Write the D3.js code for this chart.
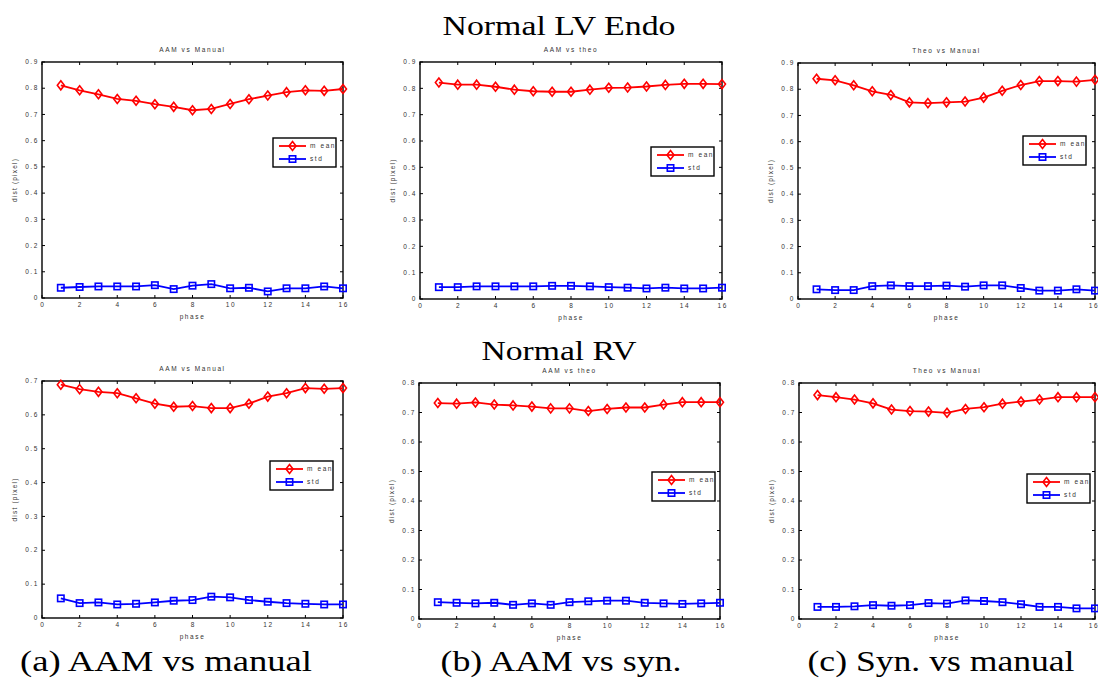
<!DOCTYPE html>
<html>
<head>
<meta charset="utf-8">
<script src="https://cdn.jsdelivr.net/npm/d3@7"></script>
<style>
  body { margin: 0; background: #fff; }
  svg { display: block; }
  .small { font-family: "Liberation Sans", Arial, sans-serif; font-size: 6.5px; letter-spacing: 1.6px; fill: #333; }
  .big { font-family: "Liberation Serif", "DejaVu Serif", serif; fill: #000; }
</style>
</head>
<body>
<div id="viz"></div>
<script>
const width = 1098;
const height = 680;

const phases = d3.range(1, 17);

// LV Endo row
const lvAamManualMean = [0.811, 0.792, 0.777, 0.759, 0.752, 0.739, 0.729, 0.716, 0.721, 0.740, 0.758, 0.772, 0.785, 0.792, 0.790, 0.797];
const lvAamManualStd  = [0.039, 0.042, 0.044, 0.044, 0.044, 0.049, 0.034, 0.047, 0.053, 0.037, 0.039, 0.025, 0.037, 0.037, 0.044, 0.037];
const lvAamTheoMean   = [0.822, 0.814, 0.814, 0.806, 0.795, 0.789, 0.787, 0.787, 0.795, 0.802, 0.803, 0.807, 0.813, 0.817, 0.817, 0.816];
const lvAamTheoStd    = [0.045, 0.045, 0.048, 0.048, 0.048, 0.048, 0.050, 0.050, 0.048, 0.045, 0.043, 0.040, 0.043, 0.040, 0.040, 0.043];
const lvTheoManualMean = [0.840, 0.834, 0.815, 0.792, 0.778, 0.750, 0.747, 0.750, 0.753, 0.768, 0.794, 0.816, 0.831, 0.831, 0.829, 0.836];
const lvTheoManualStd  = [0.037, 0.034, 0.034, 0.049, 0.052, 0.049, 0.049, 0.051, 0.047, 0.052, 0.052, 0.042, 0.032, 0.032, 0.037, 0.032];

// RV row
const rvAamManualMean = [0.689, 0.676, 0.668, 0.664, 0.649, 0.633, 0.624, 0.626, 0.620, 0.620, 0.633, 0.654, 0.664, 0.679, 0.677, 0.679];
const rvAamManualStd  = [0.058, 0.044, 0.046, 0.040, 0.042, 0.046, 0.051, 0.053, 0.063, 0.061, 0.053, 0.048, 0.044, 0.042, 0.040, 0.040];
const rvAamTheoMean   = [0.732, 0.730, 0.734, 0.727, 0.724, 0.720, 0.714, 0.714, 0.705, 0.712, 0.717, 0.717, 0.727, 0.735, 0.735, 0.735];
const rvAamTheoStd    = [0.057, 0.055, 0.053, 0.055, 0.048, 0.053, 0.048, 0.057, 0.060, 0.062, 0.062, 0.055, 0.053, 0.051, 0.053, 0.055];
const rvTheoManualMean = [0.759, 0.752, 0.744, 0.731, 0.710, 0.705, 0.703, 0.699, 0.712, 0.718, 0.730, 0.737, 0.744, 0.752, 0.752, 0.752];
const rvTheoManualStd  = [0.041, 0.041, 0.043, 0.047, 0.045, 0.047, 0.054, 0.052, 0.063, 0.061, 0.057, 0.050, 0.041, 0.041, 0.036, 0.036];

const subTitles = ["AAM vs Manual", "AAM vs theo", "Theo vs Manual"];
const rowTitles = ["Normal LV Endo", "Normal RV"];
const captions = ["(a) AAM vs manual", "(b) AAM vs syn.", "(c) Syn. vs manual"];
const legendLabels = ["m ean", "std"];
const yMaxes = [0.9, 0.9, 0.9, 0.7, 0.8, 0.8];
const xTicks = d3.range(0, 17, 2);

// panel layout (pixels)
const panels = [
  { x0: 42,  x1: 343,  y0: 62,  y1: 298, lx: 273,  ly: 138, mean: lvAamManualMean, std: lvAamManualStd, title: 0 },
  { x0: 420, x1: 722,  y0: 62,  y1: 299, lx: 651,  ly: 147, mean: lvAamTheoMean, std: lvAamTheoStd, title: 1 },
  { x0: 798, x1: 1095, y0: 63,  y1: 299, lx: 1023, ly: 136, mean: lvTheoManualMean, std: lvTheoManualStd, title: 2 },
  { x0: 42,  x1: 343,  y0: 381, y1: 618, lx: 270,  ly: 461, mean: rvAamManualMean, std: rvAamManualStd, title: 0 },
  { x0: 419, x1: 720,  y0: 383, y1: 619, lx: 652,  ly: 472, mean: rvAamTheoMean, std: rvAamTheoStd, title: 1 },
  { x0: 799, x1: 1095, y0: 383, y1: 619, lx: 1027, ly: 474, mean: rvTheoManualMean, std: rvTheoManualStd, title: 2 }
];
// caption / row title widths, to mimic the wide TeX font
const captionX = [166, 561, 941];
const captionW = [292, 241, 267];
const rowTitleY = [35, 360];
const rowTitleW = [233, 155];

const svg = d3.select("#viz")
  .append("svg")
  .attr("width", width)
  .attr("height", height);

function diamond(g, x, y, color) {
  g.append("path")
    .attr("d", `M${x},${y - 4.5}L${x + 3.5},${y}L${x},${y + 4.5}L${x - 3.5},${y}Z`)
    .attr("fill", "none")
    .attr("stroke", color)
    .attr("stroke-width", 1.6);
}

function square(g, x, y, color) {
  g.append("rect")
    .attr("x", x - 3.2).attr("y", y - 3.2)
    .attr("width", 6.4).attr("height", 6.4)
    .attr("fill", "none")
    .attr("stroke", color)
    .attr("stroke-width", 1.6);
}

panels.forEach((p, i) => {
  const g = svg.append("g");
  const x = d3.scaleLinear().domain([0, 16]).range([p.x0, p.x1]);
  const y = d3.scaleLinear().domain([0, yMaxes[i]]).range([p.y1, p.y0]);
  const yTicks = d3.range(0, Math.round(yMaxes[i] * 10) + 1).map(d => d / 10);

  // inward ticks on all sides
  xTicks.forEach(t => {
    g.append("line").attr("x1", x(t)).attr("x2", x(t)).attr("y1", p.y1).attr("y2", p.y1 - 3).attr("stroke", "#000");
    g.append("line").attr("x1", x(t)).attr("x2", x(t)).attr("y1", p.y0).attr("y2", p.y0 + 3).attr("stroke", "#000");
    g.append("text").attr("class", "small")
      .attr("x", Math.min(x(t) + 0.8, width - 4)).attr("y", p.y1 + 8.5)
      .attr("text-anchor", "middle")
      .text(t);
  });
  yTicks.forEach(t => {
    g.append("line").attr("x1", p.x0).attr("x2", p.x0 + 3).attr("y1", y(t)).attr("y2", y(t)).attr("stroke", "#000");
    g.append("line").attr("x1", p.x1).attr("x2", p.x1 - 3).attr("y1", y(t)).attr("y2", y(t)).attr("stroke", "#000");
    g.append("text").attr("class", "small")
      .attr("x", p.x0 - 3).attr("y", y(t) + 2.2)
      .attr("text-anchor", "end")
      .text(t === 0 ? "0" : d3.format(".1f")(t));
  });

  g.append("rect")
    .attr("x", p.x0).attr("y", p.y0)
    .attr("width", p.x1 - p.x0).attr("height", p.y1 - p.y0)
    .attr("fill", "none").attr("stroke", "#000").attr("stroke-width", 1.4);

  // titles and labels
  g.append("text").attr("class", "small")
    .attr("x", (p.x0 + p.x1) / 2).attr("y", p.y0 - 10)
    .attr("text-anchor", "middle")
    .text(subTitles[p.title]);
  g.append("text").attr("class", "small")
    .attr("x", (p.x0 + p.x1) / 2).attr("y", p.y1 + 21)
    .attr("text-anchor", "middle")
    .text("phase");
  g.append("text").attr("class", "small")
    .attr("transform", `translate(${p.x0 - 25},${(p.y0 + p.y1) / 2}) rotate(-90)`)
    .attr("text-anchor", "middle")
    .style("letter-spacing", "1.2px")
    .text("dist (pixel)");

  const line = d3.line().x((d, k) => x(phases[k])).y(d => y(d));

  g.append("path").datum(p.mean).attr("d", line)
    .attr("fill", "none").attr("stroke", "#ff0000").attr("stroke-width", 1.8);
  p.mean.forEach((d, k) => diamond(g, x(phases[k]), y(d), "#ff0000"));

  g.append("path").datum(p.std).attr("d", line)
    .attr("fill", "none").attr("stroke", "#0000ff").attr("stroke-width", 1.8);
  p.std.forEach((d, k) => square(g, x(phases[k]), y(d), "#0000ff"));

  // legend
  const lg = g.append("g").attr("transform", `translate(${p.lx},${p.ly})`);
  lg.append("rect").attr("width", 63).attr("height", 29)
    .attr("fill", "#fff").attr("stroke", "#000").attr("stroke-width", 1.4);
  [["#ff0000", diamond], ["#0000ff", square]].forEach(([c, mk], k) => {
    const ry = 8 + k * 13;
    lg.append("line").attr("x1", 6).attr("x2", 33).attr("y1", ry).attr("y2", ry)
      .attr("stroke", c).attr("stroke-width", 1.8);
    mk(lg, 19.5, ry, c);
    lg.append("text").attr("class", "small")
      .attr("x", 37).attr("y", ry + 2)
      .text(legendLabels[k]);
  });
});

// row titles
rowTitles.forEach((t, i) => {
  svg.append("text").attr("class", "big")
    .attr("x", 559).attr("y", rowTitleY[i])
    .attr("text-anchor", "middle")
    .attr("font-size", 28)
    .attr("textLength", rowTitleW[i])
    .attr("lengthAdjust", "spacingAndGlyphs")
    .text(t);
});

// captions
captions.forEach((t, i) => {
  svg.append("text").attr("class", "big")
    .attr("x", captionX[i]).attr("y", 671)
    .attr("text-anchor", "middle")
    .attr("font-size", 29)
    .attr("textLength", captionW[i])
    .attr("lengthAdjust", "spacingAndGlyphs")
    .text(t);
});
</script>
</body>
</html>
